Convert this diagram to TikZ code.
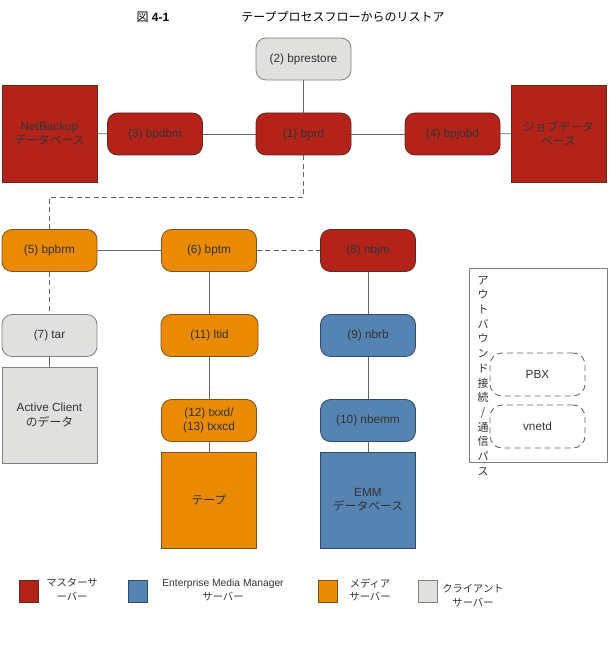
\documentclass[tikz,border=0pt]{standalone}
\usepackage{fontspec}
\setmainfont{Liberation Sans}
\newfontfamily\jp{Noto Sans CJK JP}
\definecolor{mred}{HTML}{B3231A}
\definecolor{mredb}{HTML}{5E2A20}
\definecolor{morange}{HTML}{E98A00}
\definecolor{moranb}{HTML}{7E5218}
\definecolor{mblue}{HTML}{5583B2}
\definecolor{mblueb}{HTML}{2F4B68}
\definecolor{mgray}{HTML}{E0E0DE}
\definecolor{mgrayb}{HTML}{808080}
\definecolor{txt}{HTML}{333333}
\definecolor{lin}{HTML}{666666}
\tikzset{
  proc/.style={rounded corners=10pt, minimum width=95pt, minimum height=42pt, draw, line width=0.8pt, align=center, inner sep=1pt, text=txt, font=\fontsize{11.8}{14}\selectfont},
  dbsq/.style={minimum width=95pt, minimum height=96pt, draw, line width=0.8pt, align=center, inner sep=1pt, text=txt, font=\fontsize{11.8}{14.5}\selectfont},
  redc/.style={fill=mred, draw=mredb},
  orc/.style={fill=morange, draw=moranb},
  blc/.style={fill=mblue, draw=mblueb},
  grc/.style={fill=mgray, draw=mgrayb},
  conn/.style={draw=lin, line width=0.8pt},
  dconn/.style={draw=lin, line width=0.8pt, dash pattern=on 5pt off 3.5pt},
  legsq/.style={minimum width=19pt, minimum height=22pt, draw, line width=0.8pt, inner sep=0pt},
  legtx/.style={align=center, text=txt, font=\fontsize{10.3}{13.5}\selectfont, inner sep=0pt},
  pbxbox/.style={rounded corners=12pt, minimum width=95pt, minimum height=43pt, draw=lin, line width=0.9pt, dash pattern=on 6pt off 4pt, text=txt, font=\fontsize{11.8}{14}\selectfont}
}
\begin{document}
\begin{tikzpicture}[x=1pt,y=-1pt]
\useasboundingbox (0,0) rectangle (612,663);
% title
\node[anchor=center, text=black, font=\fontsize{12}{14}\selectfont] (fig) at (153,17) {{\jp 図} \textbf{4-1}};
\node[anchor=center, text=black, font=\jp\fontsize{12}{14}\selectfont] (title) at (343,17) {テーププロセスフローからのリストア};
% top row
\node[proc, grc] (bprestore) at (303.5,59) {(2) bprestore};
\node[proc, redc] (bprd) at (303.5,134) {(1) bprd};
\node[proc, redc] (bpdbm) at (155,134) {(3) bpdbm};
\node[proc, redc] (bpjobd) at (452.5,134) {(4) bpjobd};
\node[dbsq, redc, minimum height=97pt] (nbdb) at (49.5,133.5) {NetBackup\\{\jp データベース}};
\node[dbsq, redc, minimum height=97pt] (jobdb) at (558.5,133.5) {\jp ジョブデータ\\\jp ベース};
% media row
\node[proc, orc] (bpbrm) at (49.5,250.5) {(5) bpbrm};
\node[proc, orc] (bptm) at (209,250.5) {(6) bptm};
\node[proc, redc] (nbjm) at (368,250.5) {(8) nbjm};
\node[proc, grc] (tar) at (49.5,335.5) {(7) tar};
\node[dbsq, grc] (acd) at (49.5,415) {Active Client\\{\jp のデータ}};
\node[proc, orc, minimum width=97pt] (ltid) at (209.5,335.5) {(11) ltid};
\node[proc, orc] (txxd) at (209,420.5) {(12) txxd/\\(13) txxcd};
\node[dbsq, orc] (tape) at (209,500) {\jp テープ};
\node[proc, blc] (nbrb) at (368,335.5) {(9) nbrb};
\node[proc, blc] (nbemm) at (368,420.5) {(10) nbemm};
\node[dbsq, blc] (emmdb) at (368,500) {EMM\\{\jp データベース}};
% connectors
\draw[conn] (bprestore) -- (bprd);
\draw[conn] (nbdb) -- (bpdbm);
\draw[conn] (bpdbm) -- (bprd);
\draw[conn] (bprd) -- (bpjobd);
\draw[conn] (bpjobd) -- (jobdb);
\coordinate (dj) at (303.5,197);
\draw[dconn] (bprd.south) -- (dj) -| (bpbrm.north);
\draw[conn] (bpbrm) -- (bptm);
\draw[dconn] (bptm) -- (nbjm);
\draw[dconn] (bpbrm) -- (tar);
\draw[conn] (tar) -- (acd);
\draw[conn] (bptm) -- (bptm |- ltid.north);
\draw[conn] (ltid.south -| txxd) -- (txxd);
\draw[conn] (txxd) -- (tape);
\draw[conn] (nbjm) -- (nbrb);
\draw[conn] (nbrb) -- (nbemm);
\draw[conn] (nbemm) -- (emmdb);
% outbound box
\node[draw=mgrayb, line width=0.9pt, minimum width=138pt, minimum height=194pt, inner sep=0pt] (outbox) at (538,365) {};
\node[pbxbox] (pbx) at (537.5,374.5) {PBX};
\node[pbxbox] (vnetd) at (537.5,426.5) {vnetd};
\node[anchor=north, align=center, inner sep=0pt, text=txt, font=\jp\fontsize{11}{14.7}\selectfont] (vtext) at (483,276) {ア\\ウ\\ト\\バ\\ウ\\ン\\ド\\接\\続\\/\\通\\信\\パ\\ス};
% legend
\node[legsq, redc] (lg1) at (29,591) {};
\node[legtx] (lt1) at (72,589.5) {\jp マスターサ\\\jp ーバー};
\node[legsq, blc] (lg2) at (137.5,591) {};
\node[legtx] (lt2) at (223,590) {Enterprise Media Manager\\{\jp サーバー}};
\node[legsq, orc] (lg3) at (327.5,591) {};
\node[legtx] (lt3) at (370,590) {\jp メディア\\\jp サーバー};
\node[legsq, grc] (lg4) at (427.5,591) {};
\node[legtx] (lt4) at (473,595.5) {\jp クライアント\\\jp サーバー};
\end{tikzpicture}
\end{document}
